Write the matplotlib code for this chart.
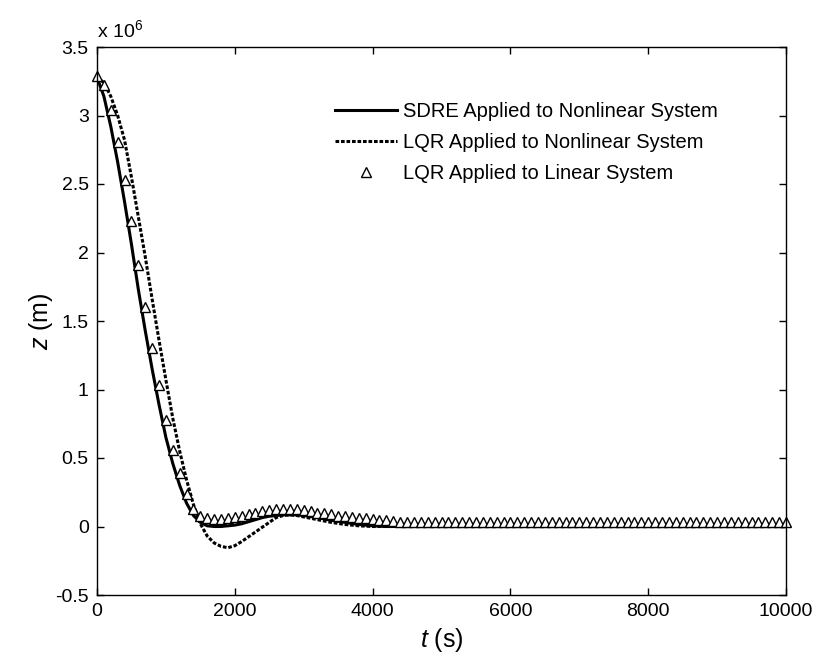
import matplotlib
matplotlib.use('Agg')
import matplotlib.pyplot as plt
from matplotlib.ticker import FuncFormatter

plt.rcParams['font.family'] = ['Liberation Sans', 'DejaVu Sans']
plt.rcParams['mathtext.fontset'] = 'custom'
plt.rcParams['mathtext.it'] = 'Liberation Sans:italic'
plt.rcParams['mathtext.rm'] = 'Liberation Sans'
plt.rcParams['axes.unicode_minus'] = False

# z in units of 1e6 m
t_sdre = [0, 100, 200, 300, 400, 500, 600, 700, 800, 900, 1000, 1100, 1200, 1300,
          1400, 1500, 1600, 1700, 1800, 1900, 2000, 2100, 2200, 2300, 2400, 2500,
          2600, 2700, 2800, 2900, 3000, 3200, 3400, 3600, 3800, 4000, 4200, 10000]
z_sdre = [3.28, 3.14, 2.92, 2.66, 2.37, 2.06, 1.73, 1.43, 1.15, 0.89, 0.65, 0.46, 0.30, 0.17,
          0.08, 0.03, 0.005, 0.0, 0.0, 0.005, 0.01, 0.02, 0.035, 0.05, 0.065, 0.075,
          0.08, 0.085, 0.085, 0.085, 0.08, 0.065, 0.045, 0.03, 0.015, 0.005, 0.0, 0.0]

t_lqr_nl = [0, 100, 200, 300, 400, 500, 600, 700, 800, 900, 1000, 1100, 1200, 1300,
            1400, 1500, 1600, 1700, 1800, 1900, 2000, 2100, 2200, 2300, 2400, 2500,
            2600, 2700, 2800, 2900, 3000, 3200, 3400, 3600, 3800, 4000, 4500, 10000]
z_lqr_nl = [3.28, 3.24, 3.14, 3.00, 2.82, 2.55, 2.26, 1.97, 1.66, 1.36, 1.07, 0.79, 0.55, 0.34,
            0.16, 0.02, -0.07, -0.12, -0.145, -0.155, -0.14, -0.11, -0.075, -0.04, -0.005, 0.03,
            0.065, 0.08, 0.085, 0.08, 0.07, 0.05, 0.03, 0.015, 0.005, 0.0, 0.0, 0.0]

t_lqr_lin = [0, 100, 200, 300, 400, 500, 600, 700, 800, 900,
             1000, 1100, 1200, 1300, 1400, 1500, 1600, 1700, 1800, 1900,
             2000, 2100, 2200, 2300, 2400, 2500, 2600, 2700, 2800, 2900,
             3000, 3100, 3200, 3300, 3400, 3500, 3600, 3700, 3800, 3900,
             4000, 4100, 4200, 4300, 4400, 4500, 4600, 4700, 4800, 4900,
             5000, 5100, 5200, 5300, 5400, 5500, 5600, 5700, 5800, 5900,
             6000, 6100, 6200, 6300, 6400, 6500, 6600, 6700, 6800, 6900,
             7000, 7100, 7200, 7300, 7400, 7500, 7600, 7700, 7800, 7900,
             8000, 8100, 8200, 8300, 8400, 8500, 8600, 8700, 8800, 8900,
             9000, 9100, 9200, 9300, 9400, 9500, 9600, 9700, 9800, 9900, 10000]
z_lqr_lin = [3.29, 3.22, 3.04, 2.81, 2.53, 2.23, 1.91, 1.60, 1.30, 1.03,
             0.78, 0.56, 0.39, 0.24, 0.13, 0.08, 0.06, 0.055, 0.055, 0.06,
             0.07, 0.08, 0.09, 0.10, 0.11, 0.12, 0.125, 0.13, 0.13, 0.125,
             0.12, 0.11, 0.10, 0.095, 0.09, 0.08, 0.075, 0.07, 0.065, 0.06,
             0.055, 0.05, 0.045, 0.04, 0.035, 0.035, 0.03, 0.03, 0.03, 0.03,
             0.03, 0.03, 0.03, 0.03, 0.03, 0.03, 0.03, 0.03, 0.03, 0.03,
             0.03, 0.03, 0.03, 0.03, 0.03, 0.03, 0.03, 0.03, 0.03, 0.03,
             0.03, 0.03, 0.03, 0.03, 0.03, 0.03, 0.03, 0.03, 0.03, 0.03,
             0.03, 0.03, 0.03, 0.03, 0.03, 0.03, 0.03, 0.03, 0.03, 0.03,
             0.03, 0.03, 0.03, 0.03, 0.03, 0.03, 0.03, 0.03, 0.03, 0.03, 0.03]

x_ticks = [0, 2000, 4000, 6000, 8000, 10000]
y_ticks = [-0.5, 0, 0.5, 1, 1.5, 2, 2.5, 3, 3.5]

fig = plt.figure(figsize=(8.17, 6.55), dpi=100)
ax = fig.add_axes([97/817, 1 - 595/655, (786 - 97)/817, (595 - 47)/655])

ax.plot(t_sdre, z_sdre, color='black', lw=2.2, label='SDRE Applied to Nonlinear System')
ax.plot(t_lqr_nl, z_lqr_nl, color='black', lw=2.2, linestyle=(0, (1.2, 0.6)),
        label='LQR Applied to Nonlinear System')
ax.plot(t_lqr_lin, z_lqr_lin, linestyle='none', marker='^', ms=7, mfc='white',
        mec='black', mew=1.0, clip_on=False, label='LQR Applied to Linear System')

ax.set_xlim(0, 10000)
ax.set_ylim(-0.5, 3.5)
ax.set_xticks(x_ticks)
ax.set_yticks(y_ticks)
ax.yaxis.set_major_formatter(FuncFormatter(lambda v, p: '%g' % v))
ax.tick_params(direction='in', length=5, width=1, top=True, right=True,
               labelsize=14, pad=6)
for s in ax.spines.values():
    s.set_linewidth(1.0)

ax.set_xlabel('$t$ (s)', fontsize=18, labelpad=4)
ax.set_ylabel('$z$ (m)', fontsize=18, labelpad=0)
ax.text(0.0, 1.01, r'x 10$^6$', transform=ax.transAxes, fontsize=14,
        ha='left', va='bottom')

ax.legend(loc='upper left', bbox_to_anchor=(0.345, 0.900), frameon=False,
          borderpad=0, borderaxespad=0,
          fontsize=14.5, handlelength=3.1, handletextpad=0.3, labelspacing=0.6)

fig.savefig('out.png', dpi=100)
